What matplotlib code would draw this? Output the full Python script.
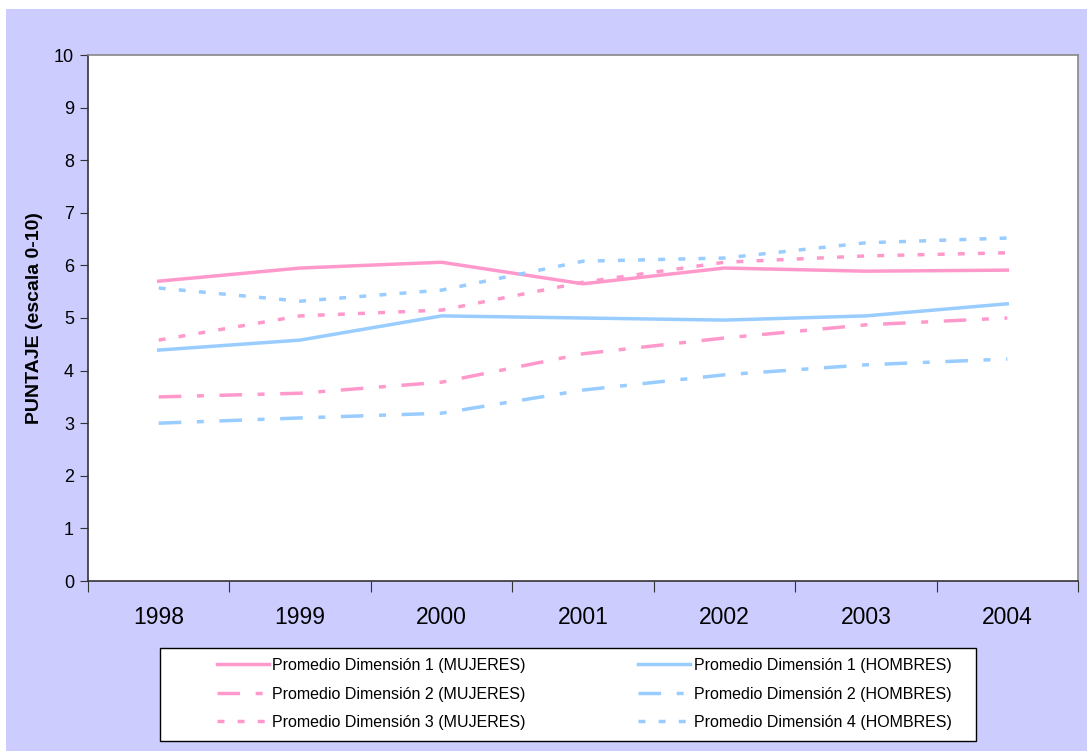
import numpy as np
import matplotlib.pyplot as plt
from matplotlib.patches import Rectangle

plt.rcParams['font.family'] = ['Liberation Sans', 'DejaVu Sans']

# datos
years = ['1998', '1999', '2000', '2001', '2002', '2003', '2004']
dim1_muj = [5.70, 5.95, 6.06, 5.65, 5.95, 5.89, 5.91]
dim1_hom = [4.39, 4.58, 5.04, 5.00, 4.96, 5.04, 5.27]
dim2_muj = [3.50, 3.57, 3.78, 4.32, 4.62, 4.87, 5.00]
dim2_hom = [3.00, 3.10, 3.19, 3.63, 3.92, 4.11, 4.22]
dim3_muj = [4.58, 5.04, 5.15, 5.68, 6.06, 6.18, 6.24]
dim4_hom = [5.57, 5.32, 5.53, 6.08, 6.14, 6.43, 6.52]

rosa = '#FF99CC'
azul = '#99CCFF'
fondo = '#CCCCFF'

W, H = 1087, 751
fig = plt.figure(figsize=(W / 100, H / 100), dpi=100)
fig.patch.set_facecolor('white')
# fondo lila del area del grafico
fig.patches.append(Rectangle((6 / W, 0), 1 - 6 / W, 1 - 9 / H,
                             transform=fig.transFigure, facecolor=fondo,
                             edgecolor='none', zorder=-10))
# caja blanca de la leyenda
fig.patches.append(Rectangle((160 / W, 1 - 741 / H), 816 / W, 93 / H,
                             transform=fig.transFigure, facecolor='white',
                             edgecolor='black', lw=1.0, zorder=-5))

ax = fig.add_axes([88 / W, 1 - 581 / H, 990 / W, 526 / H])
ax.set_facecolor('white')

x = np.arange(len(years)) + 0.5
lw = 2.5
dashdot = (0, (6.5, 4.5, 2, 4.5))
dots = (0, (2, 3.8))

ax.plot(x, dim1_muj, color=rosa, lw=lw, ls='-', label='Promedio Dimensión 1 (MUJERES)')
ax.plot(x, dim2_muj, color=rosa, lw=lw, ls=dashdot, label='Promedio Dimensión 2 (MUJERES)')
ax.plot(x, dim3_muj, color=rosa, lw=lw, ls=dots, label='Promedio Dimensión 3 (MUJERES)')
ax.plot(x, dim1_hom, color=azul, lw=lw, ls='-', label='Promedio Dimensión 1 (HOMBRES)')
ax.plot(x, dim2_hom, color=azul, lw=lw, ls=dashdot, label='Promedio Dimensión 2 (HOMBRES)')
ax.plot(x, dim4_hom, color=azul, lw=lw, ls=dots, label='Promedio Dimensión 4 (HOMBRES)')

ax.set_xlim(0, len(years))
ax.set_ylim(0, 10)
ax.set_yticks(range(0, 11))
ax.tick_params(axis='y', direction='out', length=6, labelsize=13, pad=4, color='#333333')
ax.set_xticks(np.arange(len(years) + 1))
ax.set_xticklabels([])
ax.set_xticks(x, minor=True)
ax.set_xticklabels(years, minor=True, fontsize=16.5)
ax.tick_params(axis='x', which='major', direction='out', length=8, color='#333333')
ax.tick_params(axis='x', which='minor', length=0, pad=18)

for s in ['left', 'bottom']:
    ax.spines[s].set_color('#333333')
    ax.spines[s].set_linewidth(1.2)
for s in ['top', 'right']:
    ax.spines[s].set_color('#888888')
    ax.spines[s].set_linewidth(1.2)

ax.set_ylabel('PUNTAJE (escala 0-10)', fontsize=14, fontweight='bold', labelpad=8)

leg = fig.legend(ncol=2, loc='center', bbox_to_anchor=(584 / W, 1 - 694 / H),
                 frameon=False, fontsize=11.5,
                 handlelength=3.3, handletextpad=0.2, borderpad=0.0,
                 labelspacing=0.85, columnspacing=7.0)

fig.savefig('out.png', dpi=100, facecolor=fig.get_facecolor())
